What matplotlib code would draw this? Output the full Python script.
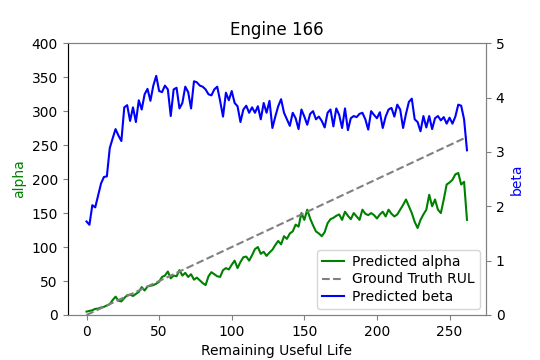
import matplotlib
matplotlib.use('Agg')
import matplotlib.pyplot as plt
import numpy as np

# remaining useful life (cycles), sampled every 2 cycles
rul = np.arange(0, 263, 2)

alpha = [5, 6, 7, 9, 9.5, 11, 12, 14, 16, 22,
         27, 21, 20, 25, 29, 30, 28, 31, 34, 41,
         36, 42, 43, 44, 46, 49, 56, 58, 64, 54,
         58, 57, 66, 58, 62, 56, 60, 52, 55, 51,
         47, 44, 57, 63, 60, 57, 56, 66, 69, 67,
         74, 80, 69, 78, 85, 86, 80, 88, 97, 100,
         90, 93, 87, 92, 96, 103, 109, 104, 116, 112,
         120, 123, 133, 130, 150, 140, 155, 142, 132, 123,
         120, 116, 122, 135, 141, 143, 146, 148, 140, 152,
         146, 141, 150, 145, 140, 155, 149, 147, 150, 147,
         142, 148, 152, 145, 155, 149, 145, 148, 155, 162,
         170, 160, 150, 137, 128, 140, 148, 155, 177, 160,
         170, 155, 150, 170, 192, 195, 199, 207, 209, 192,
         196, 140]

beta = [1.72, 1.66, 2.02, 1.98, 2.2, 2.42, 2.54, 2.55, 3.07, 3.25,
        3.42, 3.3, 3.2, 3.82, 3.86, 3.57, 3.82, 3.55, 3.95, 3.78,
        4.06, 4.16, 3.94, 4.22, 4.4, 4.12, 4.1, 4.22, 4.15, 3.66,
        4.15, 4.18, 3.8, 3.9, 4.2, 4.1, 3.8, 4.3, 4.28, 4.22,
        4.2, 4.15, 4.06, 4.04, 4.15, 4.2, 3.94, 3.65, 4.09, 3.95,
        4.12, 3.9, 3.84, 3.55, 3.78, 3.85, 3.72, 3.82, 3.72, 3.84,
        3.6, 3.9, 3.72, 3.94, 3.44, 3.65, 3.84, 3.97, 3.72, 3.6,
        3.48, 3.72, 3.62, 3.42, 3.78, 3.65, 3.5, 3.7, 3.75, 3.6,
        3.65, 3.57, 3.45, 3.72, 3.78, 3.47, 3.8, 3.68, 3.44, 3.8,
        3.4, 3.62, 3.66, 3.64, 3.7, 3.72, 3.6, 3.41, 3.75, 3.68,
        3.62, 3.73, 3.44, 3.65, 3.78, 3.81, 3.65, 3.87, 3.78, 3.44,
        3.7, 3.92, 3.98, 3.6, 3.55, 3.38, 3.66, 3.45, 3.66, 3.42,
        3.62, 3.66, 3.58, 3.64, 3.52, 3.63, 3.52, 3.65, 3.87, 3.85,
        3.6, 3.03]

ground_truth = rul  # true RUL equals the x value

plt.rcParams['axes.edgecolor'] = 'grey'
plt.rcParams['xtick.color'] = 'grey'
plt.rcParams['ytick.color'] = 'grey'
plt.rcParams['xtick.labelcolor'] = 'black'
plt.rcParams['ytick.labelcolor'] = 'black'

fig, ax1 = plt.subplots(figsize=(5.4, 3.6), dpi=100)
fig.subplots_adjust(left=0.125, right=0.9, top=0.88, bottom=0.125)

l1, = ax1.plot(rul, alpha, color='green', label='Predicted alpha')
l2, = ax1.plot(rul, ground_truth, color='grey', linestyle='--', label='Ground Truth RUL')
ax1.set_ylim(0, 400)
ax1.set_ylabel('alpha', color='green')
ax1.set_xlabel('Remaining Useful Life')
ax1.set_title('Engine 166')

ax2 = ax1.twinx()
l3, = ax2.plot(rul, beta, color='blue', label='Predicted beta')
ax2.set_ylim(0, 5)
ax2.set_ylabel('beta', color='blue')
ax2.spines['left'].set_color('black')

ax2.legend(handles=[l1, l2, l3], loc='lower right',
           handlelength=1.6, handletextpad=0.6, labelspacing=0.25,
           borderpad=0.35, borderaxespad=0.45)

fig.savefig('out.png')
